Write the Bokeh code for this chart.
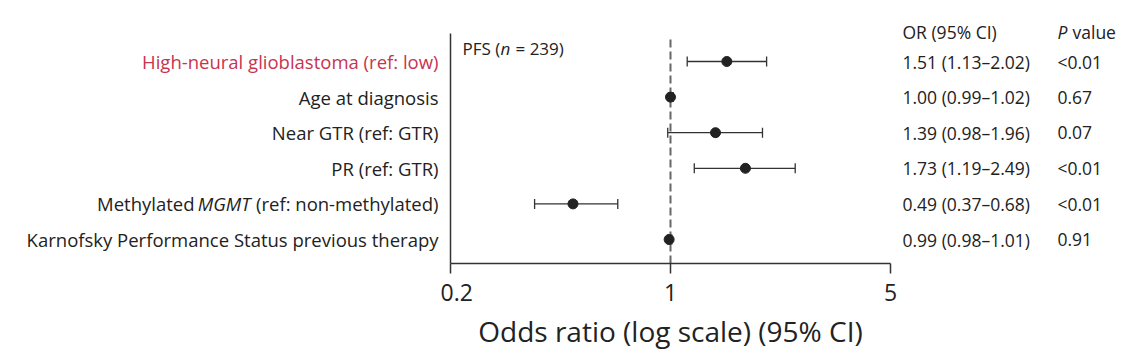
from bokeh.plotting import figure
from bokeh.models import (ColumnDataSource, Label, Whisker, TeeHead,
                          FixedTicker, CustomJSTickFormatter, Range1d)
from bokeh.layouts import row
from bokeh.embed import file_html
from bokeh.resources import INLINE

# ---- data ----
variables = ["High-neural glioblastoma (ref: low)", "Age at diagnosis",
             "Near GTR (ref: GTR)", "PR (ref: GTR)",
             "Methylated MGMT (ref: non-methylated)",
             "Karnofsky Performance Status previous therapy"]
odds = [1.51, 1.00, 1.39, 1.73, 0.49, 0.99]
ci_low = [1.13, 0.99, 0.98, 1.19, 0.37, 0.98]
ci_high = [2.02, 1.02, 1.96, 2.49, 0.68, 1.01]
p_values = ["<0.01", "0.67", "0.07", "<0.01", "<0.01", "0.91"]
x_ticks = [0.2, 1, 5]
ref_value = 1
n_patients = 239

FONT = "Open Sans"
FS_ROW = "18.5px"
FS_TAB = "17.5px"
DARK = "#222222"
RED = "#c8334f"

H = 353
BOTTOM = 90
LEFT_W = 440           # label panel width
MID_L, MID_R = 10, 8   # borders of the plot panel
FRAME_W = 440
MID_W = MID_L + FRAME_W + MID_R
RIGHT_X0 = LEFT_W + MID_W
RIGHT_W = 1132 - RIGHT_X0

ys = list(range(len(variables) - 1, -1, -1))
ROW_PX = 35.6                    # pixels per row
Y0 = -24 / ROW_PX                # bottom of plotting area (x axis)
YTOP = ys[0] + 61 / ROW_PX       # top edge of the canvas
Y_SPINE = ys[0] + 28 / ROW_PX    # top of the left spine
Y_DASH = ys[0] + 24 / ROW_PX     # top of the reference line
src = ColumnDataSource(dict(y=ys, odds=odds, lo=ci_low, hi=ci_high))


def blank(width):
    f = figure(width=width, height=H, x_range=Range1d(0, width),
               y_range=Range1d(Y0, YTOP), output_backend="svg",
               toolbar_location=None, x_axis_location=None, y_axis_location=None,
               min_border_left=0, min_border_right=0,
               min_border_top=0, min_border_bottom=BOTTOM)
    f.outline_line_color = None
    f.xgrid.grid_line_color = None
    f.ygrid.grid_line_color = None
    return f


def lab(f, x, y, text, align="left", color=DARK, style="normal", size=FS_TAB):
    f.add_layout(Label(x=x, y=y, x_units="screen", y_units="data", text=text,
                       text_align=align, text_baseline="middle",
                       text_font=FONT, text_font_size=size,
                       text_font_style=style, text_color=color))


# ---------- middle: forest plot ----------
p = figure(width=MID_W, height=H, x_axis_type="log",
           x_range=Range1d(0.2, 5), y_range=Range1d(Y0, YTOP),
           output_backend="svg", toolbar_location=None,
           min_border_left=MID_L, min_border_right=MID_R,
           min_border_top=0, min_border_bottom=BOTTOM)
p.outline_line_color = None
p.xgrid.grid_line_color = None
p.ygrid.grid_line_color = None

xa = p.xaxis[0]
xa.ticker = FixedTicker(ticks=x_ticks, minor_ticks=[])
xa.formatter = CustomJSTickFormatter(code="return String(tick)")
xa.axis_line_color = "#333333"
xa.axis_line_width = 1.5
xa.major_tick_line_color = "#333333"
xa.major_tick_line_width = 1.5
xa.major_tick_out = 10
xa.major_tick_in = 0
xa.minor_tick_line_color = None
xa.major_label_text_font = FONT
xa.major_label_text_font_size = "23px"
xa.major_label_text_color = DARK
xa.major_label_standoff = 10
xa.axis_label = "Odds ratio (log scale) (95% CI)"
xa.axis_label_text_font = FONT
xa.axis_label_text_font_size = "28px"
xa.axis_label_text_font_style = "normal"
xa.axis_label_text_color = DARK
xa.axis_label_standoff = 8

ya = p.yaxis[0]
ya.ticker = FixedTicker(ticks=[], minor_ticks=[])
ya.bounds = (Y0, Y_SPINE)
ya.axis_line_color = "#333333"
ya.axis_line_width = 1.5
ya.major_tick_line_color = None
ya.minor_tick_line_color = None

p.segment(x0=[ref_value], y0=[Y0], x1=[ref_value], y1=[Y_DASH],
          line_color="#666666", line_width=2, line_dash="8 4")
p.add_layout(Whisker(source=src, base="y", lower="lo", upper="hi",
                     dimension="width", line_color="#333333", line_width=1.3,
                     lower_head=TeeHead(size=10, line_color="#333333", line_width=1.3),
                     upper_head=TeeHead(size=10, line_color="#333333", line_width=1.3)))
p.scatter("odds", "y", source=src, size=10, color=DARK)

pfs_y = ys[0] + 13 / ROW_PX
lab(p, 462 - 450, pfs_y, "PFS (", size="17px")
lab(p, 500 - 450, pfs_y, "n", style="italic", size="17px")
lab(p, 515 - 450, pfs_y, f"= {n_patients})", size="17px")

# ---------- left: row labels ----------
left = blank(LEFT_W)
for i, (name, y) in enumerate(zip(variables, ys)):
    color = RED if i == 0 else DARK
    if "MGMT" in name:
        a, b = name.split("MGMT")
        lab(left, 438, y, b.strip(), "right", size=FS_ROW)
        lab(left, 250, y, "MGMT", "right", style="italic", size=FS_ROW)
        lab(left, 194, y, a.strip(), "right", size=FS_ROW)
    else:
        lab(left, 438, y, name, "right", color=color, size=FS_ROW)

# ---------- right: table ----------
right = blank(RIGHT_W)
head_y = ys[0] + 30 / ROW_PX
lab(right, 902 - RIGHT_X0, head_y, "OR (95% CI)")
lab(right, 1057 - RIGHT_X0, head_y, "P", style="italic")
lab(right, 1072 - RIGHT_X0, head_y, "value")
for o, l, h, pv, y in zip(odds, ci_low, ci_high, p_values, ys):
    lab(right, 902 - RIGHT_X0, y, f"{o:.2f} ({l:.2f}\u2013{h:.2f})")
    lab(right, 1057 - RIGHT_X0, y, pv)

layout = row(left, p, right, spacing=0)
open("out.html", "w").write(file_html(layout, INLINE))
